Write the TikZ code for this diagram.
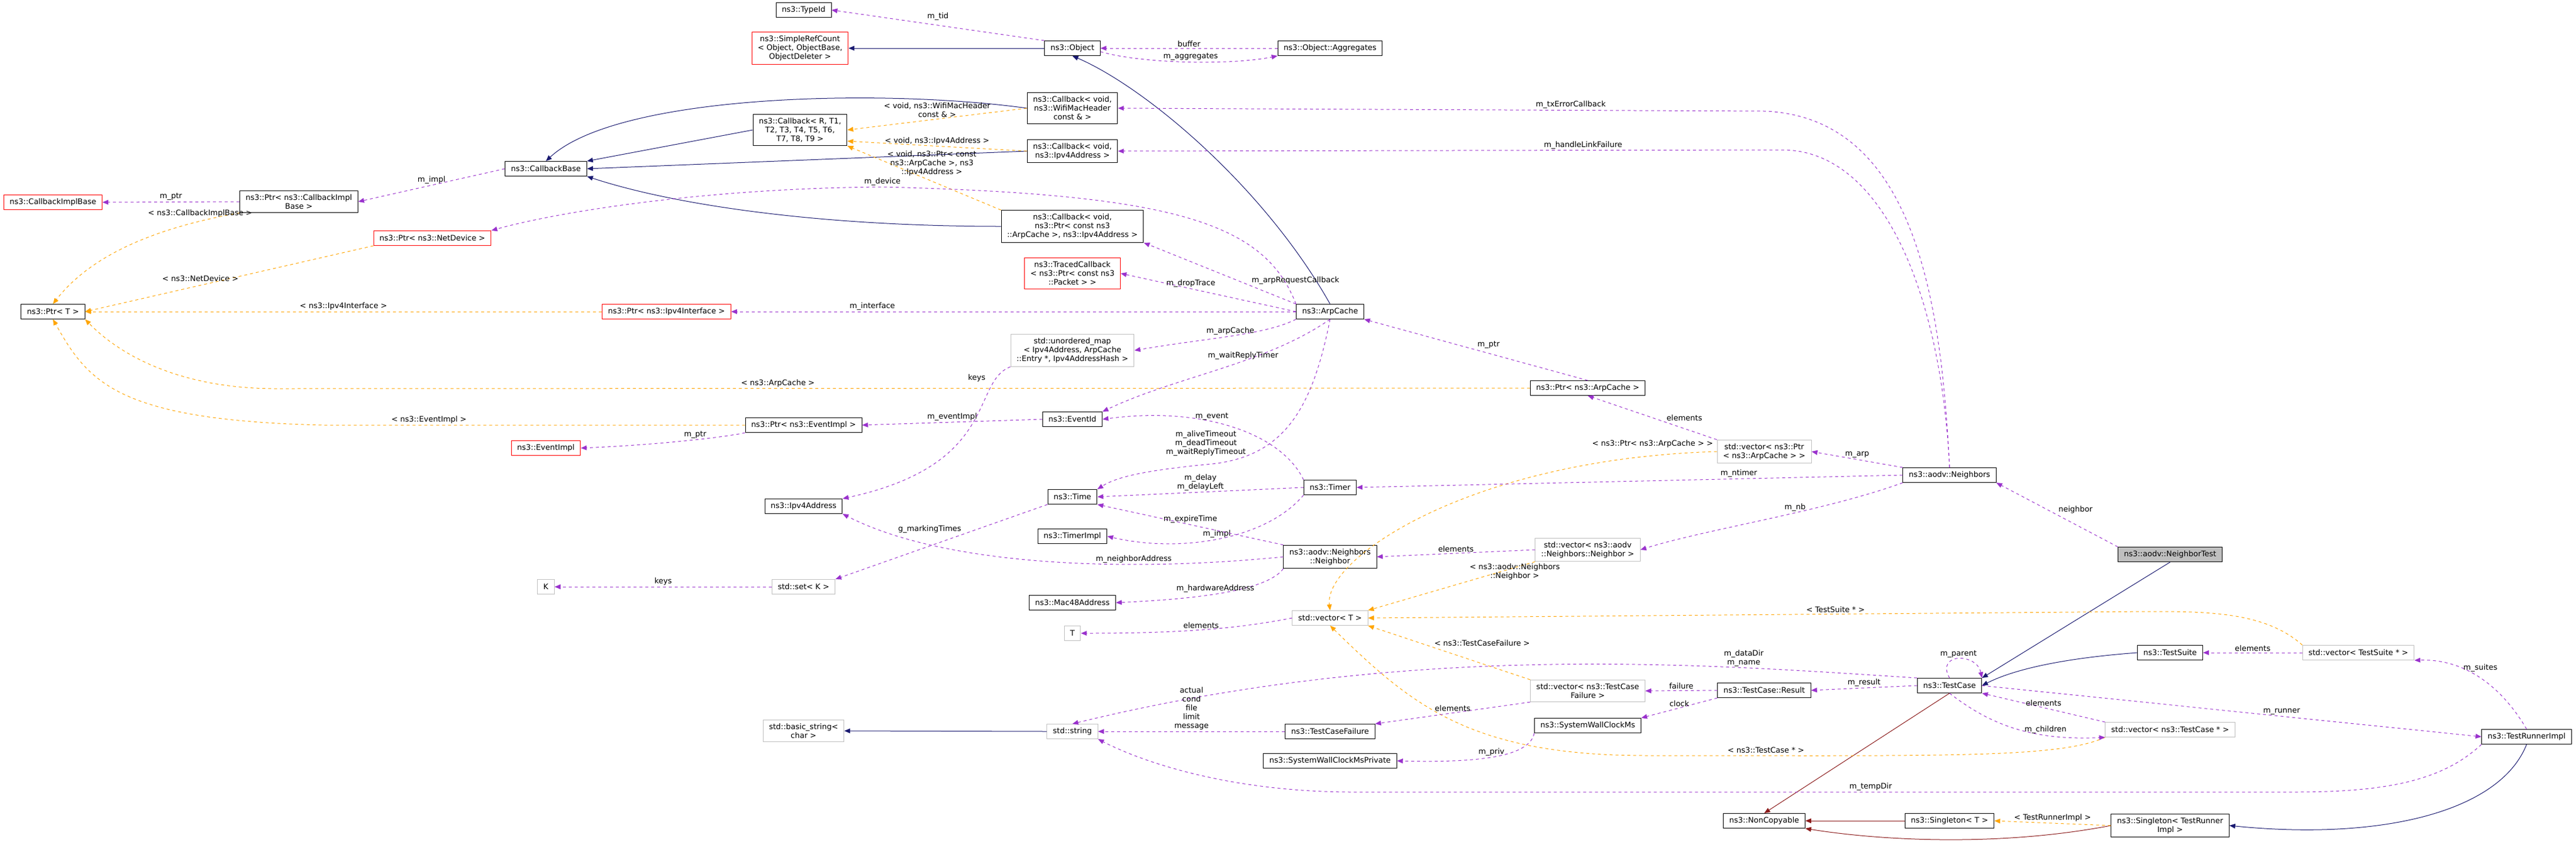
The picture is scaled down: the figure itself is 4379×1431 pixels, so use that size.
\documentclass[tikz,border=0pt]{standalone}
\usepackage{fontspec}
\setmainfont{DejaVu Sans}
\usetikzlibrary{arrows.meta}

\definecolor{inhcol}{RGB}{25,25,112}
\definecolor{usecol}{RGB}{154,50,205}
\definecolor{tplcol}{RGB}{255,165,0}
\definecolor{nccol}{RGB}{139,26,26}
\tikzset{
  box/.style={draw, fill=white, line width=0.5pt, inner xsep=5pt, inner ysep=3pt, minimum height=12.5pt, align=center, font=\fontsize{6.5}{7.5}\selectfont},
  cls/.style={box, draw=black},
  ext/.style={box, draw=red},
  stdc/.style={box, draw=black!25},
  cur/.style={box, draw=black, fill=black!25},
  lbl/.style={inner sep=1pt, align=center, font=\fontsize{6.5}{7.5}\selectfont},
  inh/.style={-{Triangle[length=5pt,width=4pt]}, draw=inhcol, line width=0.5pt},
  inhnc/.style={-{Triangle[length=5pt,width=4pt]}, draw=nccol, line width=0.5pt},
  use/.style={-{Triangle[length=5pt,width=4pt]}, draw=usecol, line width=0.5pt, dash pattern=on 2.5pt off 2.5pt},
  tpl/.style={-{Triangle[length=5pt,width=4pt]}, draw=tplcol, line width=0.5pt, dash pattern=on 2.5pt off 2.5pt}
}

\begin{document}
\begin{tikzpicture}[x=0.5pt, y=-0.5pt]
  \useasboundingbox[fill=white] (0,0) rectangle (4379,1431);
  % classes
  \node[cls] (typeid) at (1366,17) {ns3::TypeId};
  \node[ext] (refcount) at (1360,82) {ns3::SimpleRefCount\\< Object, ObjectBase,\\ ObjectDeleter >};
  \node[cls] (object) at (1823,82) {ns3::Object};
  \node[cls] (aggr) at (2261,82) {ns3::Object::Aggregates};
  \node[cls] (cbwifi) at (1823,184) {ns3::Callback< void,\\ ns3::WifiMacHeader\\ const \& >};
  \node[cls] (cbr) at (1360,221) {ns3::Callback< R, T1,\\ T2, T3, T4, T5, T6,\\ T7, T8, T9 >};
  \node[cls] (cbbase) at (928,287) {ns3::CallbackBase};
  \node[cls] (cbipv4) at (1823,257) {ns3::Callback< void,\\ ns3::Ipv4Address >};
  \node[ext] (cbimplbase) at (90,344) {ns3::CallbackImplBase};
  \node[cls] (ptrcbimpl) at (508,343) {ns3::Ptr< ns3::CallbackImpl\\Base >};
  \node[ext] (ptrnetdev) at (735,405) {ns3::Ptr< ns3::NetDevice >};
  \node[cls] (cbarp) at (1823,385) {ns3::Callback< void,\\ ns3::Ptr< const ns3\\::ArpCache >, ns3::Ipv4Address >};
  \node[cls] (ptrt) at (90,530) {ns3::Ptr< T >};
  \node[ext] (traced) at (1823,465) {ns3::TracedCallback\\< ns3::Ptr< const ns3\\::Packet > >};
  \node[ext] (ptripv4if) at (1133,530) {ns3::Ptr< ns3::Ipv4Interface >};
  \node[cls] (arpcache) at (2261,530) {ns3::ArpCache};
  \node[stdc] (umap) at (1823,596) {std::unordered\_map\\< Ipv4Address, ArpCache\\::Entry *, Ipv4AddressHash >};
  \node[cls] (ptrarp) at (2699,660) {ns3::Ptr< ns3::ArpCache >};
  \node[cls] (ptrevimpl) at (1366,723) {ns3::Ptr< ns3::EventImpl >};
  \node[cls] (eventid) at (1823,713) {ns3::EventId};
  \node[ext] (eventimpl) at (928,762) {ns3::EventImpl};
  \node[stdc] (vecptrarp) at (2999,768) {std::vector< ns3::Ptr\\< ns3::ArpCache > >};
  \node[cls] (ipv4addr) at (1366,861) {ns3::Ipv4Address};
  \node[cls] (time) at (1823,845) {ns3::Time};
  \node[cls] (timer) at (2261,829) {ns3::Timer};
  \node[cls] (neighbors) at (3314,808) {ns3::aodv::Neighbors};
  \node[cls] (timerimpl) at (1823,912) {ns3::TimerImpl};
  \node[cls] (neighbor) at (2261,947) {ns3::aodv::Neighbors\\::Neighbor};
  \node[stdc] (vecneighbor) at (2699,935) {std::vector< ns3::aodv\\::Neighbors::Neighbor >};
  \node[cur] (neighbortest) at (3689,943) {ns3::aodv::NeighborTest};
  \node[stdc] (keyk) at (928,998) {K};
  \node[stdc] (setk) at (1366,998) {std::set< K >};
  \node[cls] (mac48) at (1823,1025) {ns3::Mac48Address};
  \node[stdc] (vect) at (2261,1051) {std::vector< T >};
  \node[stdc] (tt) at (1823,1077) {T};
  \node[cls] (testsuite) at (3689,1110) {ns3::TestSuite};
  \node[stdc] (vecsuite) at (4009,1110) {std::vector< TestSuite * >};
  \node[cls] (testcase) at (3314,1166) {ns3::TestCase};
  \node[cls] (result) at (2999,1174) {ns3::TestCase::Result};
  \node[stdc] (vecfailure) at (2699,1175) {std::vector< ns3::TestCase\\Failure >};
  \node[cls] (clock) at (2699,1234) {ns3::SystemWallClockMs};
  \node[stdc] (string) at (1823,1244) {std::string};
  \node[stdc] (basicstr) at (1366,1243) {std::basic\_string<\\ char >};
  \node[cls] (failure) at (2261,1244) {ns3::TestCaseFailure};
  \node[stdc] (veccase) at (3689,1241) {std::vector< ns3::TestCase * >};
  \node[cls] (clockpriv) at (2261,1294) {ns3::SystemWallClockMsPrivate};
  \node[cls] (runner) at (4295,1253) {ns3::TestRunnerImpl};
  \node[cls] (noncopy) at (2999,1396) {ns3::NonCopyable};
  \node[cls] (singlet) at (3314,1396) {ns3::Singleton< T >};
  \node[cls] (singletr) at (3689,1404) {ns3::Singleton< TestRunner\\Impl >};

  % inheritance
  \draw[inh] (object.west) -- (refcount.east);
  \draw[inh] (arpcache.north) .. controls (2150,320) and (1950,150) .. (object.south);
  \draw[inh] (cbwifi.west) .. controls (1500,150) and (1050,160) .. (cbbase.north);
  \draw[inh] (cbr.west) -- (cbbase.north east);
  \draw[inh] (cbipv4.west) -- (cbbase.east);
  \draw[inh] (cbarp.west) .. controls (1400,385) and (1150,350) .. (cbbase.south east);
  \draw[inh] (neighbortest.south) -- (testcase.north east);
  \draw[inh] (testsuite.west) .. controls (3500,1120) and (3420,1140) .. (testcase.east);
  \draw[inh] (string.west) -- (basicstr.east);
  \draw[inh] (runner.south) .. controls (4250,1380) and (4050,1430) .. (singletr.east);
  \draw[inhnc] (testcase.south) -- (noncopy.north);
  \draw[inhnc] (singlet.west) -- (noncopy.east);
  \draw[inhnc] (singletr.west) .. controls (3400,1440) and (3200,1430) .. (noncopy.south east);

  % template instances
  \draw[tpl] (cbwifi.west) -- node[lbl, above, pos=.5] {< void, ns3::WifiMacHeader\\const \& >} (cbr.east);
  \draw[tpl] (cbipv4.west) -- node[lbl, above, pos=.5] {< void, ns3::Ipv4Address >} (cbr.south east |- 0,240);
  \draw[tpl] (cbarp.north west) -- node[lbl, pos=.45, above=3pt] {< void, ns3::Ptr< const\\ns3::ArpCache >, ns3\\::Ipv4Address >} (cbr.south east);
  \draw[tpl] (ptrcbimpl.south west) .. controls (250,390) and (150,440) .. node[lbl, pos=.15, above=2pt] {< ns3::CallbackImplBase >} (ptrt.north);
  \draw[tpl] (ptrnetdev.south west) -- node[lbl, pos=.6, above=2pt] {< ns3::NetDevice >} (ptrt.east);
  \draw[tpl] (ptripv4if.west) -- node[lbl, above] {< ns3::Ipv4Interface >} (ptrt.east);
  \draw[tpl] (ptrarp.west) -- node[lbl, above, pos=.6] {< ns3::ArpCache >} (470,661) .. controls (300,661) and (200,600) .. (ptrt.south east);
  \draw[tpl] (ptrevimpl.west) -- node[lbl, above, pos=.75] {< ns3::EventImpl >} (550,723) .. controls (200,715) and (150,650) .. (ptrt.south);
  \draw[tpl] (vecptrarp.west) .. controls (2500,780) and (2250,950) .. node[lbl, pos=0, above left=2pt] {< ns3::Ptr< ns3::ArpCache > >} (vect.north);
  \draw[tpl] (vecneighbor.south west) -- node[lbl, pos=.4, above right=0pt] {< ns3::aodv::Neighbors\\::Neighbor >} (vect.north east);
  \draw[tpl] (vecsuite.north west) .. controls (3850,1040) and (3750,1040) .. (3650,1040) -- node[lbl, pos=.4, above] {< TestSuite * >} (vect.east);
  \draw[tpl] (vecfailure.north west) -- node[lbl, pos=.6, above right=0pt] {< ns3::TestCaseFailure >} (vect.south east);
  \draw[tpl] (veccase.south west) .. controls (3500,1290) and (3300,1285) .. (2800,1285) .. controls (2500,1285) and (2400,1200) .. (vect.south);
  \node[lbl] (lblveccase) at (3002,1276) {< ns3::TestCase * >};
  \draw[tpl] (singletr.west) -- node[lbl, above] {< TestRunnerImpl >} (singlet.east);

  % usage
  \draw[use] (object.north west) -- node[lbl, above=3pt, pos=.5] {m\_tid} (typeid.east);
  \draw[use] (aggr.west) -- node[lbl, above] {buffer} (object.east);
  \draw[use] ([yshift=-3pt]object.east) .. controls (1950,110) and (2100,110) .. node[lbl, above, pos=.5] {m\_aggregates} (aggr.south west);
  \draw[use] (cbbase.west) -- node[lbl, above] {m\_impl} (ptrcbimpl.east);
  \draw[use] (ptrcbimpl.west) -- node[lbl, above] {m\_ptr} (cbimplbase.east);
  \draw[use] (arpcache.north west) .. controls (2150,380) and (2000,330) .. (1500,318) .. controls (1200,320) and (950,360) .. node[lbl, pos=0, above] {m\_device} (ptrnetdev.north east);
  \draw[use] (arpcache.north west) -- node[lbl, pos=.3, above right=0pt] {m\_arpRequestCallback} (cbarp.south east);
  \draw[use] (arpcache.west) -- node[lbl, above, pos=.6] {m\_dropTrace} (traced.east);
  \draw[use] (arpcache.west) -- node[lbl, above, pos=.75] {m\_interface} (ptripv4if.east);
  \draw[use] (arpcache.south west) .. controls (2150,570) and (2050,575) .. node[lbl, above, pos=.5] {m\_arpCache} (umap.east);
  \draw[use] (arpcache.south) .. controls (2150,620) and (2000,640) .. node[lbl, above, pos=.4] {m\_waitReplyTimer} (eventid.north east);
  \draw[use] (arpcache.south) .. controls (2230,700) and (2180,780) .. (2050,790) .. controls (1950,800) and (1900,810) .. node[lbl, pos=0, above=6pt] {m\_aliveTimeout\\m\_deadTimeout\\m\_waitReplyTimeout} (time.north east);
  \draw[use] (ptrarp.north) -- node[lbl, above right=0pt, pos=.5] {m\_ptr} (arpcache.south east);
  \draw[use] (eventid.west) -- node[lbl, above] {m\_eventImpl} (ptrevimpl.east);
  \draw[use] (ptrevimpl.south west) .. controls (1250,740) and (1150,755) .. node[lbl, above, pos=.5] {m\_ptr} (eventimpl.east);
  \draw[use] (umap.south west) .. controls (1650,650) and (1700,790) .. node[lbl, left=8pt, pos=.15] {keys} (ipv4addr.north east);
  \draw[use] (timer.north west) .. controls (2180,740) and (2050,690) .. node[lbl, above, pos=.6] {m\_event} (eventid.east);
  \draw[use] (timer.west) -- node[lbl, above] {m\_delay\\m\_delayLeft} (time.east);
  \draw[use] (timer.south west) .. controls (2150,920) and (2000,940) .. node[lbl, above, pos=.5] {m\_impl} (timerimpl.east);
  \draw[use] (neighbor.north west) -- node[lbl, above, pos=.5] {m\_expireTime} (time.south east);
  \draw[use] (neighbor.west) .. controls (1900,975) and (1600,960) .. node[lbl, above, pos=.3] {m\_neighborAddress} (ipv4addr.south east);
  \draw[use] (neighbor.south west) .. controls (2150,1010) and (2000,1020) .. node[lbl, above, pos=.5] {m\_hardwareAddress} (mac48.east);
  \draw[use] (time.south west) -- node[lbl, above left=0pt, pos=.4] {g\_markingTimes} (setk.north east);
  \draw[use] (setk.west) -- node[lbl, above] {keys} (keyk.east);
  \draw[use] (vect.west) .. controls (2100,1070) and (2000,1077) .. node[lbl, above, pos=.5] {elements} (tt.east);
  \draw[use] (vecneighbor.west) -- node[lbl, above] {elements} (neighbor.east);
  \draw[use] (vecptrarp.north west) -- node[lbl, above right=0pt, pos=.4] {elements} (ptrarp.south);
  \draw[use] (neighbors.north west) -- node[lbl, above] {m\_arp} (vecptrarp.east);
  \draw[use] (neighbors.west) -- node[lbl, above, pos=.3] {m\_ntimer} (timer.east);
  \draw[use] (neighbors.south west) .. controls (3100,870) and (2900,900) .. node[lbl, above, pos=.4] {m\_nb} (vecneighbor.east);
  \draw[use] (neighbors.north) .. controls (3300,500) and (3250,200) .. (3000,189) -- node[lbl, above, pos=.3] {m\_txErrorCallback} (cbwifi.east);
  \draw[use] (neighbors.north) .. controls (3300,500) and (3200,255) .. (3030,255) -- node[lbl, above, pos=.3] {m\_handleLinkFailure} (cbipv4.east);
  \draw[use] (neighbortest.north west) -- node[lbl, above right=0pt, pos=.5] {neighbor} (neighbors.south east);
  \draw[use] (vecsuite.west) -- node[lbl, above] {elements} (testsuite.east);
  \draw[use] (runner.north) .. controls (4260,1180) and (4200,1120) .. node[lbl, right=2pt, pos=.7] {m\_suites} (vecsuite.south east);
  \draw[use] (testcase.north) .. controls (3290,1110) and (3360,1110) .. node[lbl, above, pos=.5] {m\_parent} (testcase.north east);
  \draw[use] (testcase.west) -- node[lbl, above] {m\_result} (result.east);
  \draw[use] (testcase.north west) .. controls (2900,1130) and (2400,1090) .. node[lbl, above, pos=.25] {m\_dataDir\\m\_name} (string.north);
  \draw[use] (result.west) -- node[lbl, above] {failure} (vecfailure.east);
  \draw[use] (result.south west) -- node[lbl, above, pos=.5] {clock} (clock.north east);
  \draw[use] (vecfailure.south west) -- node[lbl, above, pos=.5] {elements} (failure.north east);
  \draw[use] (testcase.south) .. controls (3380,1230) and (3450,1260) .. node[lbl, above, pos=.7] {m\_children} (veccase.south west);
  \draw[use] (veccase.north west) -- node[lbl, above, pos=.5] {elements} (testcase.south east);
  \draw[use] (testcase.east) -- node[lbl, above, pos=.6] {m\_runner} (runner.west);
  \draw[use] (runner.south west) .. controls (4150,1330) and (4050,1347) .. (3900,1347) -- node[lbl, above, pos=.45] {m\_tempDir} (2300,1347) .. controls (2100,1347) and (1950,1300) .. (string.south east);
  \draw[use] (failure.west) -- node[lbl, above] {actual\\cond\\file\\limit\\message} (string.east);
  \draw[use] (clock.south west) .. controls (2600,1290) and (2500,1297) .. node[lbl, above, pos=.5] {m\_priv} (clockpriv.east);
\end{tikzpicture}
\end{document}
